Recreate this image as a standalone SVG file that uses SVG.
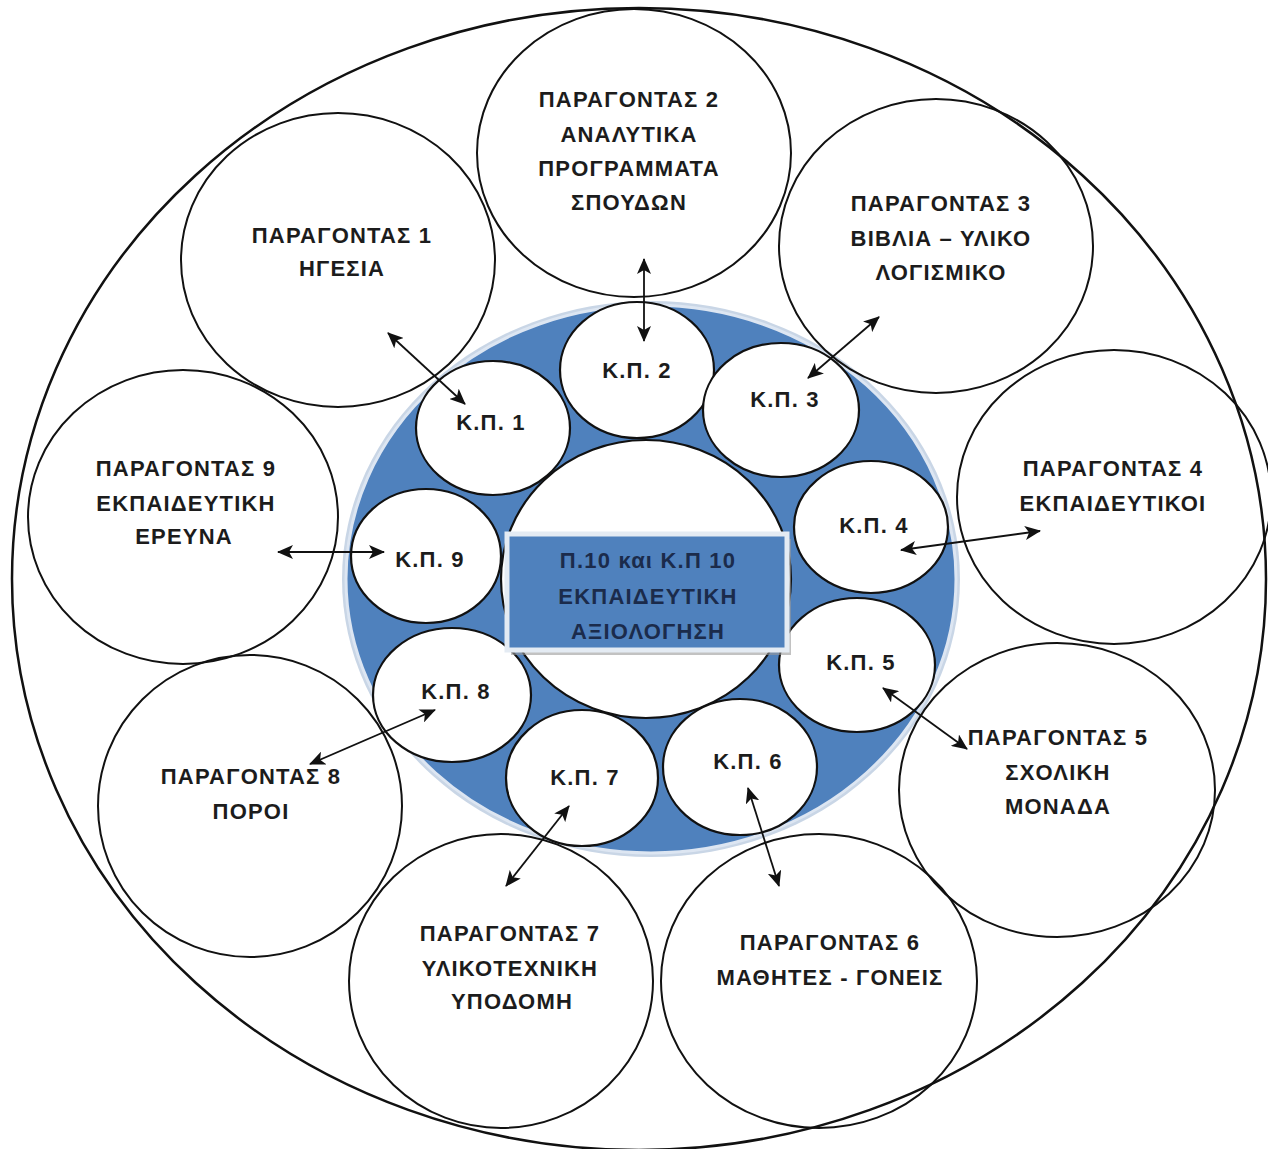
<svg xmlns="http://www.w3.org/2000/svg" width="1268" height="1149" viewBox="0 0 1268 1149">
<defs>
<style>
.ln{fill:none;stroke:#111;stroke-width:2}
.kp{fill:#fff;stroke:#111;stroke-width:2.2}
.t{font-family:"Liberation Sans",Arial,sans-serif;font-weight:bold;font-size:22px;letter-spacing:1.2px;fill:#1c1c1c;text-anchor:middle}
.tc{fill:#1b2b4b}
.ar{fill:none;stroke:#111;stroke-width:1.8;marker-start:url(#ah);marker-end:url(#ah)}
</style>
<marker id="ah" markerUnits="userSpaceOnUse" markerWidth="16" markerHeight="14" refX="15" refY="7" orient="auto-start-reverse">
<path d="M0,0 L16,7 L0,14 L4,7 Z" fill="#111"/>
</marker>
</defs>
<rect width="1268" height="1149" fill="#fff"/>
<g id="outer">
<ellipse cx="639" cy="579" rx="627" ry="571" fill="#fff" stroke="#111" stroke-width="2.5"/>
</g>
<g id="hub">
<ellipse cx="651" cy="579" rx="309" ry="278" fill="#c9d6e6"/>
<ellipse cx="651" cy="579" rx="305" ry="274" fill="#4f81bd" stroke="#dde6f2" stroke-width="3"/>
<ellipse cx="646" cy="579" rx="145" ry="139" class="kp"/>
</g>
<g id="kp1"><ellipse cx="493" cy="428" rx="77" ry="67" class="kp"/><text class="t" x="491" y="430">Κ.Π. 1</text></g>
<g id="kp2"><ellipse cx="637" cy="370" rx="77" ry="68" class="kp"/><text class="t" x="637" y="378">Κ.Π. 2</text></g>
<g id="kp3"><ellipse cx="781" cy="410" rx="78" ry="67" class="kp"/><text class="t" x="785" y="407">Κ.Π. 3</text></g>
<g id="kp4"><ellipse cx="871" cy="527" rx="77" ry="66" class="kp"/><text class="t" x="874" y="533">Κ.Π. 4</text></g>
<g id="kp5"><ellipse cx="857" cy="665" rx="78" ry="67" class="kp"/><text class="t" x="861" y="670">Κ.Π. 5</text></g>
<g id="kp6"><ellipse cx="740" cy="767" rx="77" ry="68" class="kp"/><text class="t" x="748" y="769">Κ.Π. 6</text></g>
<g id="kp7"><ellipse cx="582" cy="778" rx="76" ry="68" class="kp"/><text class="t" x="585" y="785">Κ.Π. 7</text></g>
<g id="kp8"><ellipse cx="452" cy="695" rx="79" ry="67" class="kp"/><text class="t" x="456" y="699">Κ.Π. 8</text></g>
<g id="kp9"><ellipse cx="426" cy="556" rx="75" ry="67" class="kp"/><text class="t" x="430" y="567">Κ.Π. 9</text></g>
<g id="center">
<rect x="511" y="539" width="280" height="116" fill="#9a9a9a" opacity="0.6"/>
<rect x="507" y="534" width="280" height="116" fill="#4f81bd" stroke="#e4ebf3" stroke-width="5"/>
<text class="t tc" x="648" y="568">Π.10 και Κ.Π 10</text>
<text class="t tc" x="648" y="604">ΕΚΠΑΙΔΕΥΤΙΚΗ</text>
<text class="t tc" x="648" y="639">ΑΞΙΟΛΟΓΗΣΗ</text>
</g>
<g id="p1"><ellipse cx="338" cy="260" rx="157" ry="147" class="ln"/>
<text class="t" x="342" y="243">ΠΑΡΑΓΟΝΤΑΣ 1</text><text class="t" x="342" y="276">ΗΓΕΣΙΑ</text></g>
<g id="p2"><ellipse cx="634" cy="153" rx="157" ry="144" class="ln"/>
<text class="t" x="629" y="107">ΠΑΡΑΓΟΝΤΑΣ 2</text><text class="t" x="629" y="142">ΑΝΑΛΥΤΙΚΑ</text><text class="t" x="629" y="176">ΠΡΟΓΡΑΜΜΑΤΑ</text><text class="t" x="629" y="210">ΣΠΟΥΔΩΝ</text></g>
<g id="p3"><ellipse cx="936" cy="246" rx="157" ry="147" class="ln"/>
<text class="t" x="941" y="211">ΠΑΡΑΓΟΝΤΑΣ 3</text><text class="t" x="941" y="246">ΒΙΒΛΙΑ – ΥΛΙΚΟ</text><text class="t" x="941" y="280">ΛΟΓΙΣΜΙΚΟ</text></g>
<g id="p4"><ellipse cx="1114" cy="497" rx="157" ry="147" class="ln"/>
<text class="t" x="1113" y="476">ΠΑΡΑΓΟΝΤΑΣ 4</text><text class="t" x="1113" y="511">ΕΚΠΑΙΔΕΥΤΙΚΟΙ</text></g>
<g id="p5"><ellipse cx="1057" cy="790" rx="158" ry="147" class="ln"/>
<text class="t" x="1058" y="745">ΠΑΡΑΓΟΝΤΑΣ 5</text><text class="t" x="1058" y="780">ΣΧΟΛΙΚΗ</text><text class="t" x="1058" y="814">ΜΟΝΑΔΑ</text></g>
<g id="p6"><ellipse cx="819" cy="981" rx="158" ry="147" class="ln"/>
<text class="t" x="830" y="950">ΠΑΡΑΓΟΝΤΑΣ 6</text><text class="t" x="830" y="985">ΜΑΘΗΤΕΣ - ΓΟΝΕΙΣ</text></g>
<g id="p7"><ellipse cx="501" cy="981" rx="152" ry="147" class="ln"/>
<text class="t" x="510" y="941">ΠΑΡΑΓΟΝΤΑΣ 7</text><text class="t" x="510" y="976">ΥΛΙΚΟΤΕΧΝΙΚΗ</text><text class="t" x="512" y="1009">ΥΠΟΔΟΜΗ</text></g>
<g id="p8"><ellipse cx="250" cy="806" rx="152" ry="151" class="ln"/>
<text class="t" x="251" y="784">ΠΑΡΑΓΟΝΤΑΣ 8</text><text class="t" x="251" y="819">ΠΟΡΟΙ</text></g>
<g id="p9"><ellipse cx="183" cy="517" rx="155" ry="147" class="ln"/>
<text class="t" x="186" y="476">ΠΑΡΑΓΟΝΤΑΣ 9</text><text class="t" x="186" y="511">ΕΚΠΑΙΔΕΥΤΙΚΗ</text><text class="t" x="184" y="544">ΕΡΕΥΝΑ</text></g>
<g id="connectors">
<line class="ar" x1="388" y1="333" x2="465" y2="404"/>
<line class="ar" x1="644" y1="259" x2="644" y2="341"/>
<line class="ar" x1="879" y1="317" x2="808" y2="378"/>
<line class="ar" x1="1040" y1="531" x2="901" y2="550"/>
<line class="ar" x1="883" y1="688" x2="967" y2="749"/>
<line class="ar" x1="748" y1="788" x2="779" y2="886"/>
<line class="ar" x1="569" y1="806" x2="506" y2="886"/>
<line class="ar" x1="435" y1="710" x2="310" y2="764"/>
<line class="ar" x1="278" y1="552" x2="384" y2="552"/>
</g>
</svg>
